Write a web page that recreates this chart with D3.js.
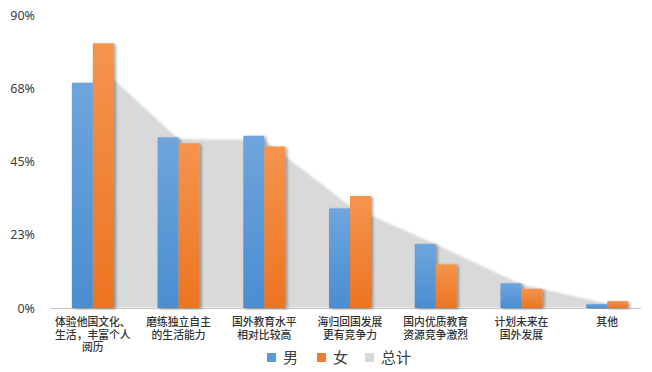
<!DOCTYPE html>
<html>
<head>
<meta charset="utf-8">
<script src="https://cdn.jsdelivr.net/npm/d3@7/dist/d3.min.js"></script>
<style>
  html, body { margin: 0; padding: 0; background: #fff; }
  svg { display: block; }
</style>
</head>
<body>
<svg id="chart" width="652" height="372"></svg>
<script>
// ---- data ----
const categories = [
  ["体验他国文化、", "生活，丰富个人", "阅历"],
  ["磨练独立自主", "的生活能力"],
  ["国外教育水平", "相对比较高"],
  ["海归回国发展", "更有竞争力"],
  ["国内优质教育", "资源竞争激烈"],
  ["计划未来在", "国外发展"],
  ["其他"]
];
const seriesNames = ["男", "女", "总计"];
const male   = [69.2, 52.4, 52.9, 30.6, 19.7, 7.6, 1.2];
const female = [81.3, 50.6, 49.6, 34.4, 13.4, 5.9, 2.1];
const total  = [76.0, 51.9, 51.6, 31.3, 19.6, 7.2, 1.4];
const yTickValues = [0, 22.5, 45, 67.5, 90];
const yTickLabels = ["0%", "23%", "45%", "68%", "90%"];

// ---- layout ----
const svg = d3.select("#chart");
const mLeft = 50, mRight = 650, mTop = 15, mBottom = 308;
const catKeys = categories.map((c, i) => i);

const x0 = d3.scaleBand().domain(catKeys).range([mLeft, mRight])
  .paddingInner(0.51).paddingOuter(0.255);
const x1 = d3.scaleBand().domain([0, 1]).range([0, x0.bandwidth()]);
const y = d3.scaleLinear().domain([0, 90]).range([mBottom, mTop]);

const defs = svg.append("defs");
function grad(id, c1, c2) {
  const g = defs.append("linearGradient").attr("id", id)
    .attr("x1", 0).attr("y1", 0).attr("x2", 0).attr("y2", 1);
  g.append("stop").attr("offset", "0%").attr("stop-color", c1);
  g.append("stop").attr("offset", "100%").attr("stop-color", c2);
}
grad("gBlue", "#6ea5dd", "#4b8dd1");
grad("gOrange", "#f5944f", "#ec7421");

const sh = defs.append("filter").attr("id", "shadow")
  .attr("x", "-30%").attr("y", "-10%").attr("width", "170%").attr("height", "130%");
sh.append("feDropShadow").attr("dx", 2).attr("dy", 1).attr("stdDeviation", 1.6)
  .attr("flood-color", "#000").attr("flood-opacity", 0.35);

const blur = defs.append("filter").attr("id", "soft");
blur.append("feGaussianBlur").attr("stdDeviation", 0.8);

// ---- total area ----
const area = d3.area()
  .x((d, i) => x0(i) + x0.bandwidth() / 2)
  .y0(y(0))
  .y1(d => y(d));
svg.append("path")
  .datum(total)
  .attr("d", area)
  .attr("fill", "#d9d9d9")
  .attr("filter", "url(#soft)");

// ---- baseline ----
svg.append("line")
  .attr("x1", mLeft).attr("x2", 641)
  .attr("y1", y(0) + 0.5).attr("y2", y(0) + 0.5)
  .attr("stroke", "#c8c8c8").attr("stroke-width", 1);

// ---- bars ----
const groups = svg.append("g").selectAll("g")
  .data(catKeys).join("g")
  .attr("transform", i => `translate(${x0(i)},0)`);

groups.append("rect")
  .attr("x", x1(0)).attr("width", x1.bandwidth())
  .attr("y", i => y(male[i])).attr("height", i => y(0) - y(male[i]))
  .attr("fill", "url(#gBlue)").attr("filter", "url(#shadow)");

groups.append("rect")
  .attr("x", x1(1)).attr("width", x1.bandwidth())
  .attr("y", i => y(female[i])).attr("height", i => y(0) - y(female[i]))
  .attr("fill", "url(#gOrange)").attr("filter", "url(#shadow)");

// ---- y axis labels ----
const yAxis = d3.axisLeft(y).tickValues(yTickValues)
  .tickFormat((d, i) => yTickLabels[i]).tickSize(0).tickPadding(0);
const ya = svg.append("g").attr("transform", "translate(35,0)").call(yAxis);
ya.select(".domain").remove();
ya.selectAll("text")
  .attr("font-family", "'Noto Sans', 'Open Sans', sans-serif")
  .attr("font-size", 12.5).attr("fill", "#404040");

// ---- x category labels ----
const xl = svg.append("g");
categories.forEach((lines, i) => {
  const cx = x0(i) + x0.bandwidth() / 2;
  lines.forEach((ln, j) => {
    xl.append("text")
      .attr("x", cx).attr("y", 322.5 + j * 12.3)
      .attr("dy", "0.35em")
      .attr("text-anchor", "middle")
      .attr("font-family", "'Noto Sans CJK SC', sans-serif")
      .attr("font-size", 10.8).attr("font-weight", 500)
      .attr("fill", "#333")
      .text(ln);
  });
});

// ---- legend ----
const legendColors = ["#5b9bd5", "#ed7d31", "#d9d9d9"];
const legendX = [267, 317, 365];
const lg = svg.append("g");
seriesNames.forEach((n, i) => {
  lg.append("rect").attr("x", legendX[i]).attr("y", 353)
    .attr("width", 9).attr("height", 9).attr("fill", legendColors[i]);
  lg.append("text").attr("x", legendX[i] + 16).attr("y", 363)
    .attr("font-family", "'Noto Sans CJK SC', sans-serif")
    .attr("font-size", 15).attr("fill", "#404040").text(n);
});
</script>
</body>
</html>
